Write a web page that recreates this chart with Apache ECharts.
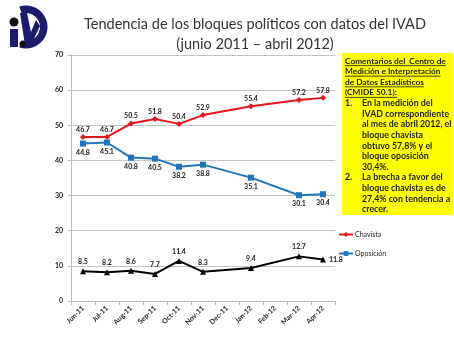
<!DOCTYPE html>
<html>
<head>
<meta charset="utf-8">
<script src="https://cdn.jsdelivr.net/npm/echarts@6/dist/echarts.min.js"></script>
<style>
  html, body { margin: 0; padding: 0; background: #fff; }
  #chart { width: 454px; height: 340px; }
</style>
</head>
<body>
<div id="chart"></div>
<script>
// Monthly IVAD readings, June 2011 – April 2012 (no survey in Dec-11 and Feb-12)
const months = ['Jun-11', 'Jul-11', 'Aug-11', 'Sep-11', 'Oct-11', 'Nov-11', 'Dec-11', 'Jan-12', 'Feb-12', 'Mar-12', 'Apr-12'];
const chavista = [46.7, 46.7, 50.5, 51.8, 50.4, 52.9, null, 55.4, null, 57.2, 57.8];
const oposicion = [44.8, 45.1, 40.8, 40.5, 38.2, 38.8, null, 35.1, null, 30.1, 30.4];
const otros = [8.5, 8.2, 8.6, 7.7, 11.4, 8.3, null, 9.4, null, 12.7, 11.8];
const yTicks = { min: 0, max: 70, step: 10 };

const titleLines = ['Tendencia de los bloques políticos con datos del IVAD', '(junio 2011 – abril 2012)'];
const heading = ['Comentarios del  Centro de', 'Medición e Interpretación', 'de Datos Estadísticos', '(CMIDE 50.1):'];
const notes = [
  ['1.', ['En la medición del', 'IVAD correspondiente', 'al mes de abril 2012, el', 'bloque chavista', 'obtuvo 57,8% y el', 'bloque oposición', '30,4%.']],
  ['2.', ['La brecha a favor del', 'bloque chavista es de', '27,4% con tendencia a', 'crecer.']]
];

const FONT = 'Lato, "Open Sans", sans-serif';
const labelStyle = { show: true, fontSize: 7, fontWeight: 'bold', color: '#222', fontFamily: FONT };

// comment box: yellow panel with bold text
const boxX = 342, boxY = 53, lineH = 10.6, textX = 345, indentX = 362;
const headFont = 'bold 8.3px ' + FONT;
const bodyFont = 'bold 8.8px ' + FONT;
const boxEls = [{
  type: 'rect', shape: { x: boxX, y: boxY, width: 111, height: 162 },
  style: { fill: '#ffff00' }, silent: true
}];
const ink = '#1b1b1b';
let row = 0;
heading.forEach(h => {
  const y = boxY + 8 + row * lineH;
  boxEls.push({ type: 'text', x: textX, y: y, silent: true,
    style: { text: h, font: headFont, fill: ink, textVerticalAlign: 'middle' } });
  const w = new echarts.graphic.Text({ style: { text: h, font: headFont } }).getBoundingRect().width;
  boxEls.push({ type: 'line', silent: true,
    shape: { x1: textX, y1: y + 4.6, x2: textX + w, y2: y + 4.6 },
    style: { stroke: ink, lineWidth: 0.8 } });
  row++;
});
notes.forEach(([num, lines]) => {
  lines.forEach((ln, i) => {
    const y = boxY + 8 + row * lineH;
    if (i === 0) boxEls.push({ type: 'text', x: textX, y: y, silent: true,
      style: { text: num, font: bodyFont, fill: ink, textVerticalAlign: 'middle' } });
    boxEls.push({ type: 'text', x: indentX, y: y, silent: true,
      style: { text: ln, font: bodyFont, fill: ink, textVerticalAlign: 'middle' } });
    row++;
  });
});

// logo: stylised IVD mark
const navy = '#1d1b6b';
const logo = {
  type: 'group', x: 0, y: 0, silent: true,
  children: [
    { type: 'sector', shape: { cx: 26, cy: 27, r: 21.5, r0: 14, startAngle: -Math.PI * 0.6, endAngle: Math.PI * 0.6, clockwise: true }, style: { fill: navy } },
    { type: 'polygon', shape: { points: [[20, 13], [27, 13], [31, 32], [36, 20], [40, 26], [31, 45], [25, 45]] }, style: { fill: navy } },
    { type: 'circle', shape: { cx: 14, cy: 22, r: 4.5 }, style: { fill: '#111' } },
    { type: 'rect', shape: { x: 10, y: 29, width: 8, height: 18 }, style: { fill: navy } },
    { type: 'circle', shape: { cx: 22.5, cy: 44, r: 3 }, style: { fill: '#111' } }
  ]
};

const chart = echarts.init(document.getElementById('chart'), null, { renderer: 'canvas' });
chart.setOption({
  animation: false,
  backgroundColor: '#fff',
  textStyle: { fontFamily: FONT },
  title: {
    text: titleLines.join('\n'),
    left: 250, top: 10, textAlign: 'center',
    textStyle: { fontSize: 14.5, fontWeight: 'normal', color: '#333', fontFamily: FONT, lineHeight: 19.5 }
  },
  legend: {
    orient: 'vertical', left: 333, top: 226,
    itemWidth: 14, itemHeight: 6, itemGap: 12,
    data: ['Chavista', 'Oposición'],
    textStyle: { fontSize: 7, color: '#222', fontFamily: FONT, padding: [0, 0, 0, -3] }
  },
  grid: { left: 71, right: 119, top: 55, bottom: 39, containLabel: false },
  xAxis: {
    type: 'category', data: months, boundaryGap: true,
    axisLine: { lineStyle: { color: '#bbb' } },
    axisTick: { show: true, length: 4, lineStyle: { color: '#bbb' } },
    axisLabel: { rotate: 45, fontSize: 7, fontWeight: 'bold', color: '#222', margin: 6, interval: 0 }
  },
  yAxis: {
    type: 'value', min: yTicks.min, max: yTicks.max, interval: yTicks.step,
    axisLine: { show: true, lineStyle: { color: '#bbb' } },
    axisTick: { show: true, length: 3, lineStyle: { color: '#bbb' } },
    splitLine: { lineStyle: { color: '#c4c4c4' } },
    axisLabel: { fontSize: 7, fontWeight: 'bold', color: '#222', margin: 8 }
  },
  series: [
    {
      name: 'Chavista', type: 'line', data: chavista, connectNulls: true,
      symbol: 'diamond', symbolSize: 6,
      itemStyle: { color: '#e3141c' }, lineStyle: { width: 2, color: '#e3141c' },
      label: Object.assign({ position: 'top', distance: 1 }, labelStyle)
    },
    {
      name: 'Oposición', type: 'line', data: oposicion, connectNulls: true,
      symbol: 'rect', symbolSize: 6,
      itemStyle: { color: '#1f74bd' }, lineStyle: { width: 2, color: '#1f74bd' },
      label: Object.assign({ position: 'bottom', distance: 2.5 }, labelStyle)
    },
    {
      name: 'Otros', type: 'line', data: otros.map((v, i) => i === otros.length - 1
        ? { value: v, label: { position: 'right', distance: 3 } } : v),
      connectNulls: true,
      symbol: 'triangle', symbolSize: 6,
      itemStyle: { color: '#000' }, lineStyle: { width: 2, color: '#000' },
      label: Object.assign({ position: 'top', distance: 3 }, labelStyle)
    }
  ],
  graphic: [logo].concat(boxEls)
});
</script>
</body>
</html>
